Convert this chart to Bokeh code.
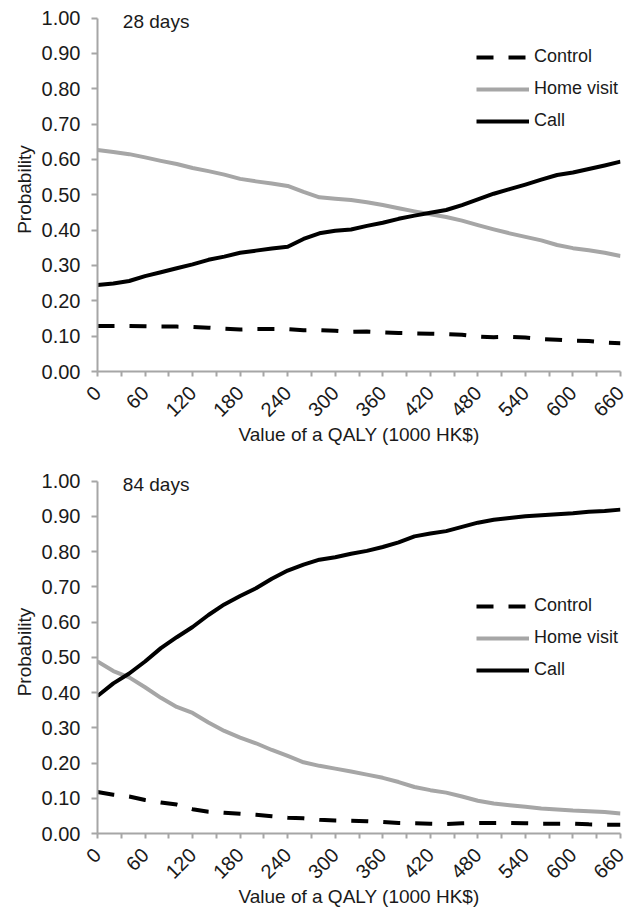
import math
from bokeh.plotting import figure
from bokeh.layouts import column
from bokeh.models import (FixedTicker, NumeralTickFormatter, Legend, LegendItem,
                          Label, Range1d)
from bokeh.embed import file_html
from bokeh.resources import INLINE

# ---------------- data ----------------
qaly = [0, 20, 40, 60, 80, 100, 120, 140, 160, 180, 200, 220, 240, 260, 280, 300,
        320, 340, 360, 380, 400, 420, 440, 460, 480, 500, 520, 540, 560, 580, 600,
        620, 640, 660]
x_tick_labels = [0, 60, 120, 180, 240, 300, 360, 420, 480, 540, 600, 660]
x_minor_ticks = [30, 90, 150, 210, 270, 330, 390, 450, 510, 570, 630]
y_tick_values = [0.0, 0.1, 0.2, 0.3, 0.4, 0.5, 0.6, 0.7, 0.8, 0.9, 1.0]

control_28 = [0.129, 0.129, 0.129, 0.128, 0.127, 0.127, 0.126, 0.124, 0.121, 0.119,
              0.120, 0.120, 0.120, 0.117, 0.117, 0.115, 0.112, 0.113, 0.111, 0.109,
              0.108, 0.107, 0.106, 0.104, 0.099, 0.097, 0.098, 0.096, 0.092, 0.090,
              0.087, 0.086, 0.082, 0.080]
home_28 = [0.627, 0.621, 0.615, 0.606, 0.596, 0.587, 0.576, 0.567, 0.557, 0.545,
           0.538, 0.532, 0.525, 0.508, 0.493, 0.489, 0.485, 0.479, 0.471, 0.462,
           0.453, 0.445, 0.437, 0.427, 0.414, 0.402, 0.391, 0.381, 0.371, 0.358,
           0.349, 0.343, 0.336, 0.327]
call_28 = [0.245, 0.249, 0.256, 0.270, 0.281, 0.292, 0.303, 0.316, 0.325, 0.336,
           0.342, 0.348, 0.353, 0.375, 0.391, 0.398, 0.402, 0.412, 0.421, 0.432,
           0.441, 0.449, 0.457, 0.471, 0.487, 0.503, 0.516, 0.529, 0.543, 0.556,
           0.563, 0.573, 0.583, 0.594]

control_84 = [0.118, 0.110, 0.105, 0.095, 0.088, 0.082, 0.069, 0.062, 0.059, 0.056,
              0.053, 0.049, 0.045, 0.043, 0.039, 0.037, 0.036, 0.035, 0.033, 0.030,
              0.029, 0.028, 0.027, 0.029, 0.030, 0.030, 0.030, 0.029, 0.028, 0.028,
              0.028, 0.026, 0.025, 0.025]
home_84 = [0.488, 0.461, 0.443, 0.415, 0.385, 0.359, 0.342, 0.315, 0.291, 0.272,
           0.256, 0.237, 0.220, 0.202, 0.192, 0.184, 0.176, 0.167, 0.158, 0.146,
           0.132, 0.123, 0.116, 0.105, 0.093, 0.085, 0.080, 0.076, 0.071, 0.068,
           0.065, 0.063, 0.061, 0.057]
call_84 = [0.390, 0.426, 0.454, 0.488, 0.526, 0.557, 0.586, 0.620, 0.650, 0.674,
           0.696, 0.723, 0.746, 0.763, 0.777, 0.784, 0.794, 0.802, 0.813, 0.826,
           0.843, 0.851, 0.858, 0.870, 0.882, 0.890, 0.895, 0.900, 0.903, 0.906,
           0.909, 0.913, 0.915, 0.919]

series_names = ["Control", "Home visit", "Call"]
panel_titles = ["28 days", "84 days"]

FONT = "Liberation Sans"
TXT = "#1a1a1a"
GREY = "#a6a6a6"
AXIS = "#a6a6a6"
Y_TOP = 1.03  # a little head-room so the panel tag is not clipped


def make_panel(tag, ctrl, home, call, frame_h, top_border, bottom_border, legend_y):
    p = figure(frame_width=523, frame_height=frame_h,
               output_backend="svg", toolbar_location=None,
               x_range=Range1d(0, 660), y_range=Range1d(0, Y_TOP),
               min_border_left=97, min_border_right=8,
               min_border_top=top_border, min_border_bottom=bottom_border)
    p.outline_line_color = None
    p.grid.visible = False
    p.background_fill_color = "white"
    p.border_fill_color = "white"

    r_home = p.line(qaly, home, line_color=GREY, line_width=4, line_join="round")
    r_ctrl = p.line(qaly, ctrl, line_color="black", line_width=4, line_dash="17 15",
                    line_join="round")
    r_call = p.line(qaly, call, line_color="black", line_width=4, line_join="round")

    # axes
    for ax in (p.xaxis[0], p.yaxis[0]):
        ax.axis_line_color = AXIS
        ax.axis_line_width = 2
        ax.major_tick_line_color = AXIS
        ax.major_tick_line_width = 2
        ax.minor_tick_line_color = AXIS
        ax.minor_tick_line_width = 2
        ax.major_tick_in = 0
        ax.major_tick_out = 5
        ax.minor_tick_in = 0
        ax.minor_tick_out = 5
        ax.major_label_text_font = FONT
        ax.major_label_text_font_size = "20px"
        ax.major_label_text_color = TXT
        ax.axis_label_text_font = FONT
        ax.axis_label_text_font_size = "19px"
        ax.axis_label_text_font_style = "normal"
        ax.axis_label_text_color = TXT

    p.xaxis.ticker = FixedTicker(ticks=x_tick_labels, minor_ticks=x_minor_ticks)
    p.xaxis.major_label_orientation = math.pi / 4
    p.xaxis.major_label_standoff = 13
    p.xaxis.axis_label = "Value of a QALY (1000 HK$)"
    p.xaxis.axis_label_standoff = -2

    p.yaxis.ticker = FixedTicker(ticks=y_tick_values, minor_ticks=[])
    p.yaxis.formatter = NumeralTickFormatter(format="0.00")
    p.yaxis.bounds = (0, 1)
    p.yaxis.major_tick_out = 6
    p.yaxis.major_label_standoff = 11
    p.yaxis.axis_label = "Probability"
    p.yaxis.axis_label_standoff = 4

    p.add_layout(Label(x=32, y=0.99, text=tag, text_font=FONT, text_font_size="19px",
                       text_color=TXT, text_baseline="middle", text_align="left"))

    legend = Legend(items=[LegendItem(label=series_names[0], renderers=[r_ctrl]),
                           LegendItem(label=series_names[1], renderers=[r_home]),
                           LegendItem(label=series_names[2], renderers=[r_call])],
                    location=(379, legend_y), orientation="vertical",
                    glyph_width=53, glyph_height=20, label_height=20,
                    spacing=11, padding=0, margin=0, label_standoff=5,
                    border_line_color=None, background_fill_alpha=0,
                    label_text_font=FONT, label_text_font_size="18px",
                    label_text_color=TXT)
    p.add_layout(legend)
    return p


top = make_panel(panel_titles[0], control_28, home_28, call_28, 364, 7, 84, 240)
bottom = make_panel(panel_titles[1], control_84, home_84, call_84, 363, 15, 72, 153)

layout = column(top, bottom, spacing=0)
open("out.html", "w").write(file_html(layout, INLINE))
